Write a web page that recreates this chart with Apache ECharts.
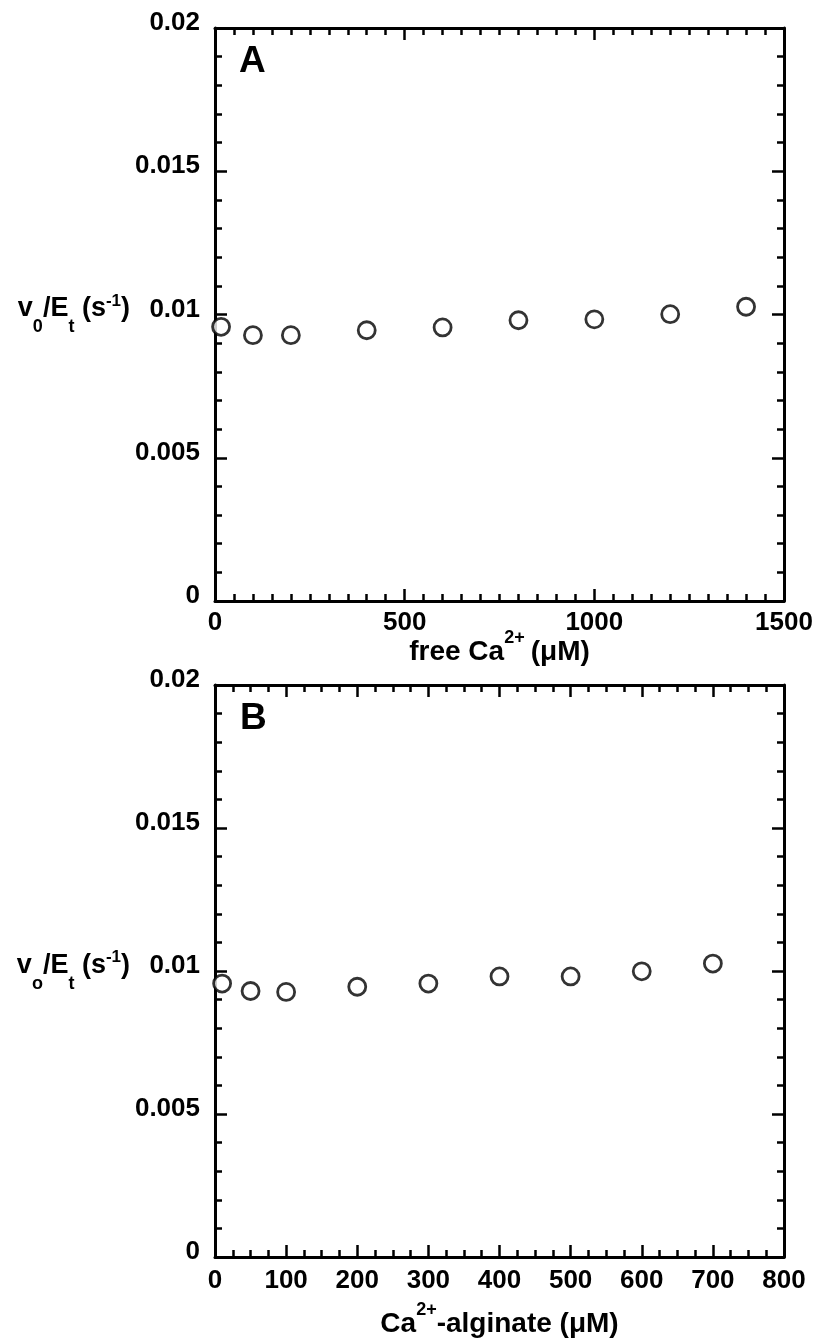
<!DOCTYPE html>
<html>
<head>
<meta charset="utf-8">
<title>v0/Et vs Ca2+</title>
<script src="https://cdn.jsdelivr.net/npm/echarts@6/dist/echarts.min.js"></script>
<style>
html, body { margin: 0; padding: 0; background: #fff; }
#chart { width: 817px; height: 1341px; }
</style>
</head>
<body>
<div id="chart"></div>
<script>
// panel A: free Ca2+ (uM)
var freeCa = [16, 100, 200, 400, 600, 800, 1000, 1200, 1400];
var rateA = [0.00957, 0.00928, 0.00928, 0.00945, 0.00955, 0.0098, 0.00983, 0.01001, 0.01027];
// panel B: Ca2+-alginate (uM)
var caAlginate = [10, 50, 100, 200, 300, 400, 500, 600, 700];
var rateB = [0.00956, 0.0093, 0.00927, 0.00945, 0.00956, 0.00981, 0.00981, 0.00999, 0.01026];

var font = "Liberation Sans, Arial, sans-serif";
var black = "#000";

// y axis name: v0/Et (s-1) with sub/superscripts
var nameRich = {
    m: { fontSize: 27, fontWeight: "bold", fontFamily: font, color: black, lineHeight: 44, verticalAlign: "top", padding: [3, 0, 0, 0] },
    sub: { fontSize: 18, fontWeight: "bold", fontFamily: font, color: black, verticalAlign: "bottom" },
    sup: { fontSize: 17, fontWeight: "bold", fontFamily: font, color: black, verticalAlign: "top" }
};
var xRich = {
    m: { fontSize: 28, fontWeight: "bold", fontFamily: font, color: black, lineHeight: 46, verticalAlign: "middle" },
    sup: { fontSize: 18, fontWeight: "bold", fontFamily: font, color: black, verticalAlign: "top", padding: [0, 6, 0, 0] },
    supTight: { fontSize: 18, fontWeight: "bold", fontFamily: font, color: black, verticalAlign: "top" }
};

function axisBase(min, max, interval, minorSplit, showLabel) {
    return {
        type: "value",
        min: min,
        max: max,
        interval: interval,
        splitLine: { show: false },
        axisLine: { show: true, onZero: false, lineStyle: { color: black, width: 3 } },
        axisTick: { show: true, inside: true, length: 12, lineStyle: { color: black, width: 2.5 } },
        minorTick: { show: true, splitNumber: minorSplit, length: 7, lineStyle: { color: black, width: 2.5 } },
        axisLabel: {
            show: showLabel,
            color: black,
            fontSize: 26,
            fontWeight: "bold",
            fontFamily: font,
            formatter: function (v) { return String(v); }
        }
    };
}

function xAxes(gridIndex, max, interval, minorSplit, name, gap, labelMargin) {
    var bottom = axisBase(0, max, interval, minorSplit, true);
    bottom.gridIndex = gridIndex;
    bottom.position = "bottom";
    bottom.axisLabel.margin = labelMargin;
    bottom.name = name;
    bottom.nameLocation = "middle";
    bottom.nameGap = gap;
    bottom.nameMoveOverlap = false;
    bottom.nameTextStyle = { rich: xRich };
    var top = axisBase(0, max, interval, minorSplit, false);
    top.gridIndex = gridIndex;
    top.position = "top";
    return [bottom, top];
}

function yAxes(gridIndex, name) {
    var left = axisBase(0, 0.02, 0.005, 5, true);
    left.gridIndex = gridIndex;
    left.position = "left";
    left.axisLabel.margin = 15;
    left.axisLabel.verticalAlign = "bottom";
    left.axisLabel.lineHeight = 10;
    left.name = name;
    left.nameLocation = "middle";
    left.nameRotate = 0;
    left.nameGap = 85;
    left.nameMoveOverlap = false;
    left.nameTextStyle = { rich: nameRich, align: "right" };
    var right = axisBase(0, 0.02, 0.005, 5, false);
    right.gridIndex = gridIndex;
    right.position = "right";
    return [left, right];
}

function pairs(xs, ys) {
    var out = [];
    for (var i = 0; i < xs.length; i++) {
        out.push([xs[i], ys[i]]);
    }
    return out;
}

var option = {
    animation: false,
    backgroundColor: "#fff",
    grid: [
        { left: 215, top: 28, width: 569, height: 573 },
        { left: 215, top: 685, width: 569, height: 572 }
    ],
    xAxis: []
        .concat(xAxes(0, 1500, 500, 10, "{m|free Ca}{sup|2+}{m|(μM)}", 28, 9))
        .concat(xAxes(1, 800, 100, 4, "{m|Ca}{supTight|2+}{m|-alginate (μM)}", 44, 11)),
    yAxis: []
        .concat(yAxes(0, "{m|v}{sub|0}{m|/E}{sub|t}{m| (s}{sup|-1}{m|)}"))
        .concat(yAxes(1, "{m|v}{sub|o}{m|/E}{sub|t}{m| (s}{sup|-1}{m|)}")),
    graphic: [
        { type: "text", left: 239, top: 43, style: { text: "A", font: "bold 37px " + font, fill: black } },
        { type: "text", left: 240, top: 700, style: { text: "B", font: "bold 37px " + font, fill: black } }
    ],
    series: [
        {
            name: "A",
            type: "scatter",
            xAxisIndex: 0,
            yAxisIndex: 0,
            symbol: "circle",
            symbolSize: 17,
            clip: false,
            itemStyle: { color: "#fff", borderColor: black, borderWidth: 2.8 },
            data: pairs(freeCa, rateA)
        },
        {
            name: "B",
            type: "scatter",
            xAxisIndex: 2,
            yAxisIndex: 2,
            symbol: "circle",
            symbolSize: 17,
            clip: false,
            itemStyle: { color: "#fff", borderColor: black, borderWidth: 2.8 },
            data: pairs(caAlginate, rateB)
        }
    ]
};

var chart = echarts.init(document.getElementById("chart"));
chart.setOption(option);
</script>
</body>
</html>
